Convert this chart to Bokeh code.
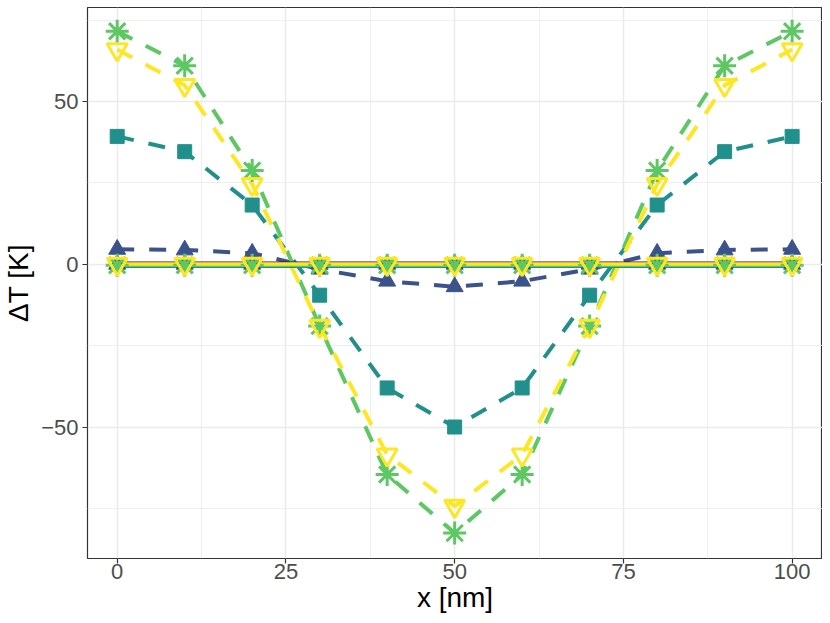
from bokeh.plotting import figure
from bokeh.models import Range1d, FixedTicker, ColumnDataSource
from bokeh.embed import file_html
from bokeh.resources import INLINE

# ---- data ----
x_nm = [0, 10, 20, 30, 40, 50, 60, 70, 80, 90, 100]

colors = ["#440154", "#3B528B", "#21908C", "#5DC863", "#FDE725"]
markers = ["circle", "triangle", "square", "asterisk", "inverted_triangle"]

# dashed series (one per colour)
dashed_purple = [0.0, 0.0, 0.0, 0.0, 0.0, 0.0, 0.0, 0.0, 0.0, 0.0, 0.0]
dashed_blue = [4.6, 4.4, 3.4, -1.5, -5.2, -6.9, -5.2, -1.5, 3.4, 4.4, 4.6]
dashed_teal = [39.3, 34.6, 18.2, -9.5, -38.0, -50.0, -38.0, -9.5, 18.2, 34.6, 39.3]
dashed_green = [71.6, 61.0, 28.8, -19.0, -64.6, -82.6, -64.6, -19.0, 28.8, 61.0, 71.6]
dashed_yellow = [66.0, 55.0, 24.6, -19.0, -58.5, -74.3, -58.5, -19.0, 24.6, 55.0, 66.0]

# solid series (near zero)
solid_purple = [0.35, 0.35, 0.35, 0.35, 0.35, 0.35, 0.35, 0.35, 0.35, 0.35, 0.35]
solid_blue = [0.0, 0.0, 0.0, 0.0, 0.0, 0.0, 0.0, 0.0, 0.0, 0.0, 0.0]
solid_teal = [-0.6, -0.6, -0.6, -0.6, -0.6, -0.6, -0.6, -0.6, -0.6, -0.6, -0.6]
solid_green = [-0.3, -0.3, -0.3, -0.3, -0.3, -0.3, -0.3, -0.3, -0.3, -0.3, -0.3]
solid_yellow = [0.1, 0.1, 0.1, 0.1, 0.1, 0.1, 0.1, 0.1, 0.1, 0.1, 0.1]

dashed = [dashed_purple, dashed_blue, dashed_teal, dashed_green, dashed_yellow]
solid = [solid_purple, solid_blue, solid_teal, solid_green, solid_yellow]
# which series show their point markers
dashed_has_markers = [False, True, True, True, True]
solid_has_markers = [False, True, False, True, True]

x_ticks = [0, 25, 50, 75, 100]
x_minor = [12.5, 37.5, 62.5, 87.5]
y_ticks = [-50, 0, 50]
y_minor = [-75, -25, 25, 75]
y_tick_labels = {-50: "\u221250", 0: "0", 50: "50"}

FONT = "Liberation Sans"

p = figure(width=822, height=615, output_backend="svg", toolbar_location=None,
           x_range=Range1d(-4.4, 104.5), y_range=Range1d(-90.4, 78.9),
           min_border_left=86, min_border_right=0, min_border_top=7,
           min_border_bottom=56)

p.background_fill_color = "white"
p.border_fill_color = "white"
p.outline_line_color = "#333333"
p.outline_line_width = 1.2

# grids
for g in (p.xgrid[0], p.ygrid[0]):
    g.grid_line_color = "#EBEBEB"
    g.grid_line_width = 1.5
    g.minor_grid_line_color = "#EBEBEB"
    g.minor_grid_line_width = 0.8

p.xaxis.ticker = FixedTicker(ticks=x_ticks, minor_ticks=x_minor)
p.yaxis.ticker = FixedTicker(ticks=y_ticks, minor_ticks=y_minor)
p.yaxis.major_label_overrides = y_tick_labels

for ax in (p.xaxis[0], p.yaxis[0]):
    ax.axis_line_color = None
    ax.major_tick_line_color = "#333333"
    ax.major_tick_line_width = 1.2
    ax.major_tick_in = 0
    ax.major_tick_out = 5
    ax.minor_tick_line_color = None
    ax.major_label_text_font = FONT
    ax.major_label_text_font_size = "22px"
    ax.major_label_text_color = "#4D4D4D"
    ax.axis_label_text_font = FONT
    ax.axis_label_text_font_size = "28px"
    ax.axis_label_text_font_style = "normal"
    ax.axis_label_text_color = "black"

p.xaxis.major_label_standoff = 0
p.xaxis.axis_label_standoff = 0
p.yaxis.major_label_standoff = 4
p.yaxis.axis_label_standoff = 4

p.xaxis.axis_label = "x [nm]"
p.yaxis.axis_label = "\u0394T [K]"

# lines
for c, ys in zip(colors, dashed):
    src = ColumnDataSource(dict(x=x_nm, y=ys))
    p.line("x", "y", source=src, line_color=c, line_width=4, line_dash="17 15")
for c, ys in zip(colors, solid):
    src = ColumnDataSource(dict(x=x_nm, y=ys))
    p.line("x", "y", source=src, line_color=c, line_width=3.5)

# markers
def add_markers(ys, c, m):
    src = ColumnDataSource(dict(x=x_nm, y=ys))
    if m == "circle":
        p.scatter("x", "y", source=src, marker="circle", size=13,
                  fill_color=c, line_color=c)
    elif m == "triangle":
        p.scatter("x", "y", source=src, marker="triangle", size=17,
                  fill_color=c, line_color=c)
    elif m == "square":
        p.scatter("x", "y", source=src, marker="square", size=14,
                  fill_color=c, line_color=c)
    elif m == "asterisk":
        p.scatter("x", "y", source=src, marker="asterisk", size=23,
                  line_color=c, line_width=3)
    else:
        p.scatter("x", "y", source=src, marker="inverted_triangle", size=20,
                  fill_alpha=0, line_color=c, line_width=3)

for i in range(5):
    if solid_has_markers[i]:
        add_markers(solid[i], colors[i], markers[i])
    if dashed_has_markers[i]:
        add_markers(dashed[i], colors[i], markers[i])

open("out.html", "w").write(file_html(p, INLINE))
